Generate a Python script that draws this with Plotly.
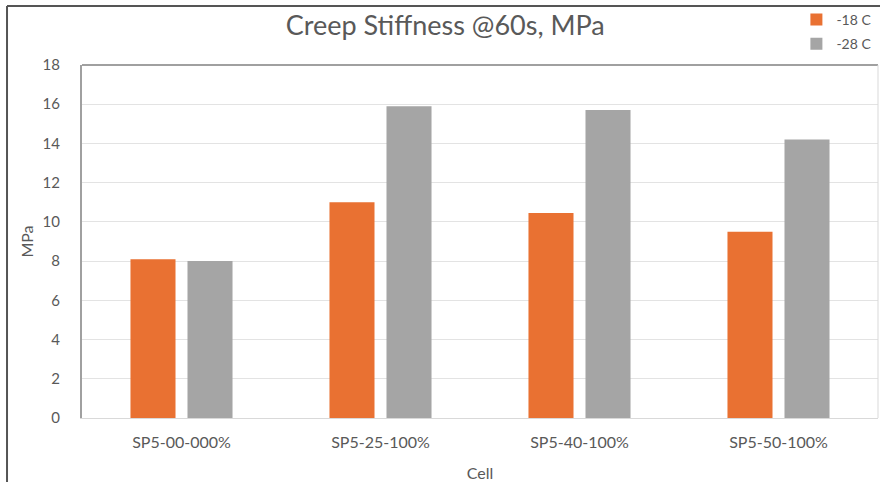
import plotly.graph_objects as go

categories = ["SP5-00-000%", "SP5-25-100%", "SP5-40-100%", "SP5-50-100%"]
series_names = ["-18 C", "-28 C"]
values_18 = [8.1, 11.0, 10.45, 9.5]
values_28 = [8.0, 15.9, 15.7, 14.2]
y_ticks = [0, 2, 4, 6, 8, 10, 12, 14, 16, 18]

ORANGE = "#E97132"
GRAY = "#A5A5A5"
TXT = "#595959"
FONT = "Lato, sans-serif"

fig = go.Figure()
fig.add_trace(go.Bar(x=categories, y=values_18, name=series_names[0],
                     marker=dict(color=ORANGE, line=dict(width=0)), legendgroup="a"))
fig.add_trace(go.Bar(x=categories, y=values_28, name=series_names[1],
                     marker=dict(color=GRAY, line=dict(width=0)), legendgroup="b"))

fig.update_layout(
    width=880, height=482,
    margin=dict(l=82, r=2, t=65, b=64, autoexpand=False),
    paper_bgcolor="white", plot_bgcolor="white",
    font=dict(family=FONT, color=TXT, size=15),
    title=dict(text="Creep Stiffness @60s, MPa", x=0.506, xref="container", xanchor="center",
               y=0.948, yref="container", yanchor="middle",
               font=dict(size=27, color=TXT, family=FONT)),
    barmode="group", bargap=0.427, bargroupgap=0.21,
    showlegend=True,
    legend=dict(x=0.905, xanchor="left", xref="container",
                y=0.992, yanchor="top", yref="container",
                font=dict(size=14, color=TXT), bgcolor="rgba(0,0,0,0)",
                tracegroupgap=3, itemwidth=30),
    xaxis=dict(showline=True, linecolor="#D9D9D9", linewidth=1, mirror=False,
               showgrid=False, ticks="", ticklabelstandoff=10,
               tickfont=dict(size=16, color=TXT),
               title=dict(text="Cell", font=dict(size=16, color=TXT), standoff=17),
               range=[-0.5, 3.5], automargin=False),
    yaxis=dict(range=[0, 18], tickvals=y_ticks, showgrid=True, gridcolor="#E3E3E3",
               gridwidth=1, zeroline=False, showline=True, linecolor="#A0A0A0", linewidth=2,
               ticks="", ticklabelstandoff=17, tickfont=dict(size=15, color=TXT),
               title=dict(text="MPa", font=dict(size=16, color=TXT), standoff=5),
               automargin=False),
)

# plot-area frame: darker top, light right
fig.add_shape(type="line", xref="paper", yref="paper", x0=0, x1=1, y0=1, y1=1,
              line=dict(color="#A0A0A0", width=2), layer="above")
fig.add_shape(type="line", xref="paper", yref="paper", x0=1, x1=1, y0=0, y1=1,
              line=dict(color="#D9D9D9", width=1), layer="above")
# outer picture frame (left and top)
fig.add_shape(type="line", xref="paper", yref="paper", x0=-0.0942, x1=1.01, y0=1.167, y1=1.167,
              line=dict(color="#555555", width=2), layer="above")
fig.add_shape(type="line", xref="paper", yref="paper", x0=-0.0942, x1=-0.0942, y0=-0.2, y1=1.167,
              line=dict(color="#555555", width=2), layer="above")

fig.write_html("out.html", config={"displayModeBar": False},
               post_script="document.body.style.margin='0';")
